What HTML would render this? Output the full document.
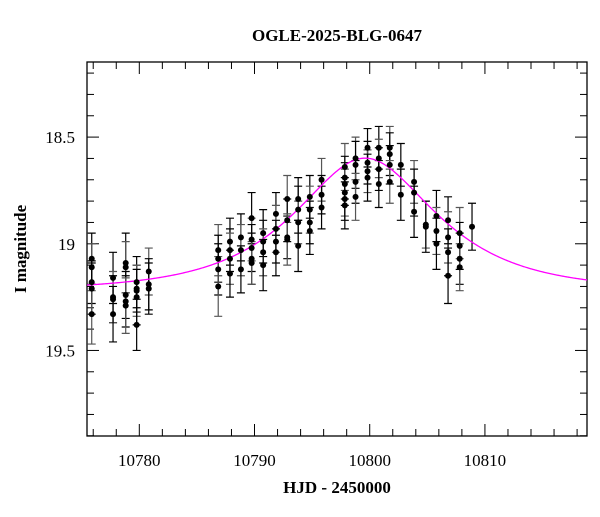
<!DOCTYPE html>
<html><head><meta charset="utf-8"><style>
html,body{margin:0;padding:0;background:#fff;}
svg text{font-family:"Liberation Serif",serif;fill:#000;}
</style></head><body>
<svg id="chart" width="600" height="512" viewBox="0 0 600 512" xmlns="http://www.w3.org/2000/svg">
<text x="337" y="41" font-size="17" font-weight="bold" text-anchor="middle">OGLE-2025-BLG-0647</text>
<text x="337" y="493" font-size="17" font-weight="bold" text-anchor="middle">HJD - 2450000</text>
<text x="0" y="0" font-size="17" font-weight="bold" text-anchor="middle" transform="translate(26,249) rotate(-90)">I magnitude</text>
<g id="plot"></g>
</svg>
<script>
const times = [10775.87,10775.87,10775.87,10775.87,10775.87,
10777.72,10777.72,10777.72,10777.72,
10778.82,10778.82,10778.82,10778.82,10778.82,
10779.77,10779.77,10779.77,10779.77,10779.77,
10780.82,10780.82,10780.82,
10786.85,10786.85,10786.85,10786.85,
10787.87,10787.87,10787.87,10787.87,
10788.82,10788.82,10788.82,
10789.75,10789.75,10789.75,10789.75,10789.75,
10790.75,10790.75,10790.75,10790.75,
10791.86,10791.86,10791.86,10791.86,
10792.84,10792.84,10792.84,10792.84,
10793.79,10793.79,10793.79,10793.79,
10794.80,10794.80,10794.80,10794.80,
10795.82,10795.82,10795.82,
10797.84,10797.84,10797.84,10797.84,10797.84,10797.84,
10798.77,10798.77,10798.77,10798.77,
10799.81,10799.81,10799.81,10799.81,
10800.79,10800.79,10800.79,10800.79,
10801.74,10801.74,10801.74,10801.74,
10802.70,10802.70,
10803.85,10803.85,10803.85,
10804.87,10804.87,
10805.79,10805.79,10805.79,
10806.80,10806.80,10806.80,10806.80,
10807.81,10807.81,10807.81,10807.81,
10808.88];
const mags = [19.07,19.11,19.18,19.21,19.33,
19.16,19.26,19.25,19.33,
19.09,19.11,19.24,19.27,19.29,
19.18,19.21,19.22,19.25,19.38,
19.13,19.19,19.21,
19.03,19.07,19.12,19.20,
18.99,19.03,19.07,19.14,
18.97,19.03,19.12,
18.88,18.98,19.02,19.07,19.09,
18.95,18.99,19.04,19.10,
18.86,18.93,18.99,19.04,
18.79,18.89,18.97,18.98,
18.79,18.84,18.90,19.01,
18.78,18.84,18.90,18.94,
18.70,18.77,18.83,
18.64,18.69,18.72,18.76,18.79,18.82,
18.60,18.63,18.71,18.78,
18.55,18.62,18.66,18.69,
18.55,18.60,18.65,18.72,
18.55,18.58,18.63,18.71,
18.63,18.77,
18.71,18.76,18.85,
18.91,18.92,
18.87,18.94,19.00,
18.89,18.97,19.04,19.15,
18.95,19.01,19.07,19.11,
18.92];
const errors = [0.12,0.11,0.10,0.12,0.14,
0.12,0.11,0.12,0.13,
0.14,0.12,0.11,0.12,0.13,
0.12,0.11,0.12,0.13,0.12,
0.11,0.12,0.12,
0.12,0.11,0.12,0.14,
0.11,0.10,0.12,0.11,
0.11,0.12,0.11,
0.12,0.10,0.11,0.12,0.10,
0.11,0.10,0.11,0.12,
0.10,0.11,0.10,0.11,
0.11,0.10,0.10,0.12,
0.10,0.11,0.10,0.12,
0.10,0.11,0.10,0.11,
0.10,0.09,0.10,
0.11,0.10,0.10,0.11,0.10,0.11,
0.10,0.11,0.10,0.11,
0.09,0.10,0.10,0.11,
0.10,0.09,0.10,0.11,
0.10,0.10,0.09,0.10,
0.10,0.12,
0.10,0.11,0.12,
0.11,0.12,
0.12,0.11,0.12,
0.11,0.12,0.11,0.13,
0.12,0.11,0.12,0.11,
0.11];
const xTickLabels = [10780,10790,10800,10810];
const yTickLabels = ["18.5","19","19.5"];
const modelParams = {t0:10799.6, u0:0.65, tE:9.3, base:19.22};

const X0=87, X1=587, Y0=62, Y1=436;
const tMin=10775.46, tMax=10818.86, mMin=18.148, mMax=19.901;
const xs = t => X0 + (t - tMin) / (tMax - tMin) * (X1 - X0);
const ys = m => Y0 + (m - mMin) / (mMax - mMin) * (Y1 - Y0);
const NS="http://www.w3.org/2000/svg";
const g=document.getElementById('plot');
function mk(tag, attrs){const e=document.createElementNS(NS,tag);for(const k in attrs)e.setAttribute(k,attrs[k]);g.appendChild(e);return e;}

// frame
const frame=mk('rect',{x:X0,y:Y0,width:X1-X0,height:Y1-Y0,fill:'none',stroke:'#000','stroke-width':1.3});



// x ticks
for(let d=10776; d<=10818; d+=2){
  const major = d%10===0;
  const len = major?12:7;
  const x=xs(d);
  const t1=mk('line',{x1:x,x2:x,y1:Y1,y2:Y1-len,stroke:'#000','stroke-width':1});
  
  
  const t2=mk('line',{x1:x,x2:x,y1:Y0,y2:Y0+len,stroke:'#000','stroke-width':1});
  
  
}
xTickLabels.forEach(v=>{
  const t=mk('text',{x:xs(v),y:Y1+30,'font-size':17,'text-anchor':'middle'});
  t.textContent=v;
  
  
});
// y ticks
for(let i=2;i<=19;i++){
  const m=18+i*0.1;
  const major = i%5===0;
  const len = major?12:7;
  const y=ys(m);
  const t1=mk('line',{x1:X0,x2:X0+len,y1:y,y2:y,stroke:'#000','stroke-width':1});
  
  
  const t2=mk('line',{x1:X1,x2:X1-len,y1:y,y2:y,stroke:'#000','stroke-width':1});
  
  
}
yTickLabels.forEach(v=>{
  const t=mk('text',{x:X0-12,y:ys(parseFloat(v))+6,'font-size':17,'text-anchor':'end'});
  t.textContent=v;
  
  
});

// clip
const defs=mk('defs',{});
const cp=document.createElementNS(NS,'clipPath');cp.setAttribute('id','clip');
const cr=document.createElementNS(NS,'rect');cr.setAttribute('x',X0);cr.setAttribute('y',Y0);cr.setAttribute('width',X1-X0);cr.setAttribute('height',Y1-Y0);
cp.appendChild(cr);defs.appendChild(cp);

// data
for(let i=0;i<times.length;i++){
  const x=xs(times[i]), y=ys(mags[i]), ya=ys(mags[i]-errors[i]), yb=ys(mags[i]+errors[i]);
  const col = i%3===1 ? '#555' : '#000';
  const eb=mk('path',{d:`M${x},${ya}V${yb}M${x-4},${ya}H${x+4}M${x-4},${yb}H${x+4}`,stroke:col,'stroke-width':1.2,fill:'none','clip-path':'url(#clip)'});
  
  
}
// model
const pts=[];
for(let t=tMin; t<=tMax+0.01; t+=0.1){
  const dt=(t-modelParams.t0)/modelParams.tE;
  const u=Math.sqrt(modelParams.u0*modelParams.u0+dt*dt);
  const A=(u*u+2)/(u*Math.sqrt(u*u+4));
  const m=modelParams.base-2.5*Math.log10(A);
  pts.push(xs(t).toFixed(2)+','+ys(m).toFixed(2));
}
const curve=mk('polyline',{points:pts.join(' '),fill:'none',stroke:'#ff00ff','stroke-width':1.3,'clip-path':'url(#clip)'});


for(let i=0;i<times.length;i++){
  const c=mk('circle',{cx:xs(times[i]),cy:ys(mags[i]),r:3,fill:'#000'});
  
  
}
</script>
</body></html>
